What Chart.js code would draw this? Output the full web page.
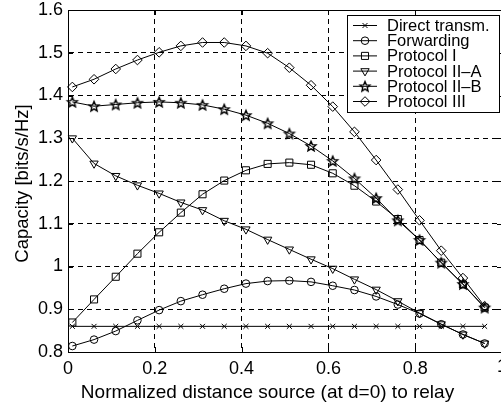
<!DOCTYPE html>
<html>
<head>
<meta charset="utf-8">
<script src="https://cdn.jsdelivr.net/npm/chart.js@4/dist/chart.umd.min.js"></script>
<style>
  html, body { margin: 0; padding: 0; background: #fff; overflow: hidden; }
  #wrap { width: 501px; height: 410px; overflow: hidden; }
</style>
</head>
<body>
<div id="wrap"><canvas id="c" width="520" height="410"></canvas></div>
<script>
// normalized relay distance (marker positions)
const distances = [0.01, 0.06, 0.11, 0.16, 0.21, 0.26, 0.31, 0.36, 0.41, 0.46,
                   0.51, 0.56, 0.61, 0.66, 0.71, 0.76, 0.81, 0.86, 0.91, 0.96];

const directTransm = [0.86, 0.86, 0.86, 0.86, 0.86, 0.86, 0.86, 0.86, 0.86, 0.86,
                      0.86, 0.86, 0.86, 0.86, 0.86, 0.86, 0.86, 0.86, 0.86, 0.86];
const forwarding  = [0.814, 0.829, 0.849, 0.874, 0.898, 0.919, 0.934, 0.948, 0.960, 0.966,
                     0.967, 0.964, 0.955, 0.945, 0.930, 0.911, 0.890, 0.865, 0.841, 0.820];
const protocolI   = [0.869, 0.923, 0.976, 1.030, 1.080, 1.126, 1.169, 1.201, 1.225, 1.240,
                     1.243, 1.238, 1.218, 1.189, 1.152, 1.111, 1.062, 1.009, 0.958, 0.904];
const protocolIIA = [1.300, 1.241, 1.212, 1.190, 1.171, 1.150, 1.132, 1.107, 1.087, 1.063,
                     1.040, 1.017, 0.995, 0.970, 0.946, 0.919, 0.891, 0.865, 0.841, 0.820];
const protocolIIB = [1.385, 1.375, 1.379, 1.383, 1.385, 1.383, 1.378, 1.368, 1.354, 1.335,
                     1.311, 1.282, 1.247, 1.206, 1.160, 1.108, 1.062, 1.009, 0.959, 0.904];
const protocolIII = [1.420, 1.438, 1.462, 1.483, 1.501, 1.516, 1.524, 1.524, 1.516, 1.499,
                     1.465, 1.424, 1.374, 1.315, 1.249, 1.180, 1.108, 1.037, 0.973, 0.907];

const seriesNames = ['Direct transm.', 'Forwarding', 'Protocol I',
                     'Protocol II\u2013A', 'Protocol II\u2013B', 'Protocol III'];

const xTitle = 'Normalized distance source (at d=0) to relay';
const yTitle = 'Capacity [bits/s/Hz]';

const FONT = '"Liberation Sans", Arial, Helvetica, sans-serif';

// pentagram marker (Chart.js has no outline star)
function makeStar(rOut) {
  const s = 2 * Math.ceil(rOut + 2);
  const cv = document.createElement('canvas');
  cv.width = s; cv.height = s;
  const g = cv.getContext('2d');
  g.beginPath();
  for (let i = 0; i < 10; i++) {
    const r = i % 2 ? rOut * 0.45 : rOut;
    const a = -Math.PI / 2 + i * Math.PI / 5;
    const px = s / 2 + r * Math.cos(a), py = s / 2 + 0.5 + r * Math.sin(a);
    i ? g.lineTo(px, py) : g.moveTo(px, py);
  }
  g.closePath();
  g.strokeStyle = '#000'; g.lineWidth = 1.4; g.lineJoin = 'miter';
  g.stroke();
  return cv;
}
const starImg = makeStar(5.2);

const markers = [
  { pointStyle: 'crossRot', radius: 3.5, rotation: 0 },
  { pointStyle: 'circle',   radius: 3.8, rotation: 0 },
  { pointStyle: 'rect',     radius: 5,   rotation: 0 },
  { pointStyle: 'triangle', radius: 4.8, rotation: 180 },
  { pointStyle: starImg,    radius: 5,   rotation: 0 },
  { pointStyle: 'rectRot',  radius: 4.8, rotation: 0 },
];

const allSeries = [directTransm, forwarding, protocolI, protocolIIA, protocolIIB, protocolIII];

const datasets = allSeries.map((vals, k) => ({
  label: seriesNames[k],
  data: vals.map((v, i) => ({ x: distances[i], y: v })),
  borderColor: '#000', borderWidth: 1,
  backgroundColor: 'rgba(0,0,0,0)',
  pointStyle: markers[k].pointStyle,
  pointRadius: markers[k].radius,
  pointRotation: markers[k].rotation,
  pointBorderColor: '#000', pointBorderWidth: 1,
  pointBackgroundColor: 'rgba(0,0,0,0)',
  tension: 0, fill: false, clip: false,
}));

// frame, inward ticks, axis titles and MATLAB-like legend
const matlabFrame = {
  id: 'matlabFrame',
  afterDatasetsDraw(chart) {
    const { ctx, chartArea: a, scales } = chart;
    ctx.save();
    ctx.strokeStyle = '#000'; ctx.lineWidth = 1;
    ctx.strokeRect(Math.round(a.left) + 0.5, Math.round(a.top) + 0.5,
                   Math.round(a.right - a.left), Math.round(a.bottom - a.top));
    ctx.beginPath();
    scales.x.ticks.forEach(t => {
      const px = Math.round(scales.x.getPixelForValue(t.value)) + 0.5;
      ctx.moveTo(px, a.bottom); ctx.lineTo(px, a.bottom - 5);
      ctx.moveTo(px, a.top); ctx.lineTo(px, a.top + 5);
    });
    scales.y.ticks.forEach(t => {
      const py = Math.round(scales.y.getPixelForValue(t.value)) + 0.5;
      ctx.moveTo(a.left, py); ctx.lineTo(a.left + 5, py);
      ctx.moveTo(a.right, py); ctx.lineTo(a.right - 5, py);
    });
    ctx.stroke();

    // last x tick label sits on the (cropped) right edge, as in the figure
    ctx.fillStyle = '#000';
    ctx.font = '18px ' + FONT;
    ctx.textAlign = 'center';
    ctx.textBaseline = 'top';
    ctx.fillText('1', scales.x.getPixelForValue(1), a.bottom + 6);

    // axis titles
    ctx.textBaseline = 'alphabetic';
    ctx.font = '19px ' + FONT;
    ctx.fillText(xTitle, 267.5, 398);
    ctx.save();
    ctx.translate(27.5, 183.5);
    ctx.rotate(-Math.PI / 2);
    ctx.font = '18.5px ' + FONT;
    ctx.fillText(yTitle, 0, 0);
    ctx.restore();

    // legend
    const bx = 347.5, by = 15.5, bw = 152, bh = 97;
    ctx.fillStyle = '#fff';
    ctx.fillRect(bx, by, bw, bh);
    ctx.strokeRect(bx, by, bw, bh);
    ctx.font = '16.5px ' + FONT;
    ctx.textBaseline = 'middle';
    ctx.textAlign = 'left';
    chart.data.datasets.forEach((ds, k) => {
      const cy = 25.5 + k * 15.2;
      ctx.strokeStyle = '#000'; ctx.lineWidth = 1;
      ctx.beginPath(); ctx.moveTo(353, cy); ctx.lineTo(377, cy); ctx.stroke();
      ctx.fillStyle = 'rgba(0,0,0,0)';
      Chart.helpers.drawPoint(ctx, {
        pointStyle: ds.pointStyle, radius: ds.pointRadius,
        rotation: ds.pointRotation, borderWidth: 1,
      }, 365, cy);
      ctx.fillStyle = '#000';
      ctx.fillText(ds.label, 387, cy + 1);
    });
    ctx.restore();
  },
};

new Chart(document.getElementById('c'), {
  type: 'line',
  data: { datasets },
  options: {
    responsive: false, animation: false,
    layout: { padding: { left: 0, right: 18, top: 10, bottom: 0 } },
    plugins: { legend: { display: false }, tooltip: { enabled: false } },
    scales: {
      x: {
        type: 'linear', min: 0, max: 1,
        afterFit: (s) => { s.height = 58; s.paddingLeft = 0; s.paddingRight = 0; },
        ticks: { stepSize: 0.2, autoSkip: false, maxRotation: 0, padding: 6,
                 color: '#000', font: { family: FONT, size: 18 },
                 callback: (v) => (v >= 1 ? '' : +v.toFixed(1) + '') },
        grid: { color: '#000', lineWidth: 1, drawTicks: false },
        border: { display: true, color: '#000', width: 1, dash: [5, 4] },
      },
      y: {
        min: 0.8, max: 1.6,
        afterFit: (s) => { s.width = 68; s.paddingTop = 0; s.paddingBottom = 0; },
        ticks: { stepSize: 0.1, autoSkip: false, padding: 5,
                 color: '#000', font: { family: FONT, size: 18 },
                 callback: (v) => +v.toFixed(1) + '' },
        grid: { color: '#000', lineWidth: 1, drawTicks: false },
        border: { display: true, color: '#000', width: 1, dash: [5, 4] },
      },
    },
  },
  plugins: [matlabFrame],
});
</script>
</body>
</html>
